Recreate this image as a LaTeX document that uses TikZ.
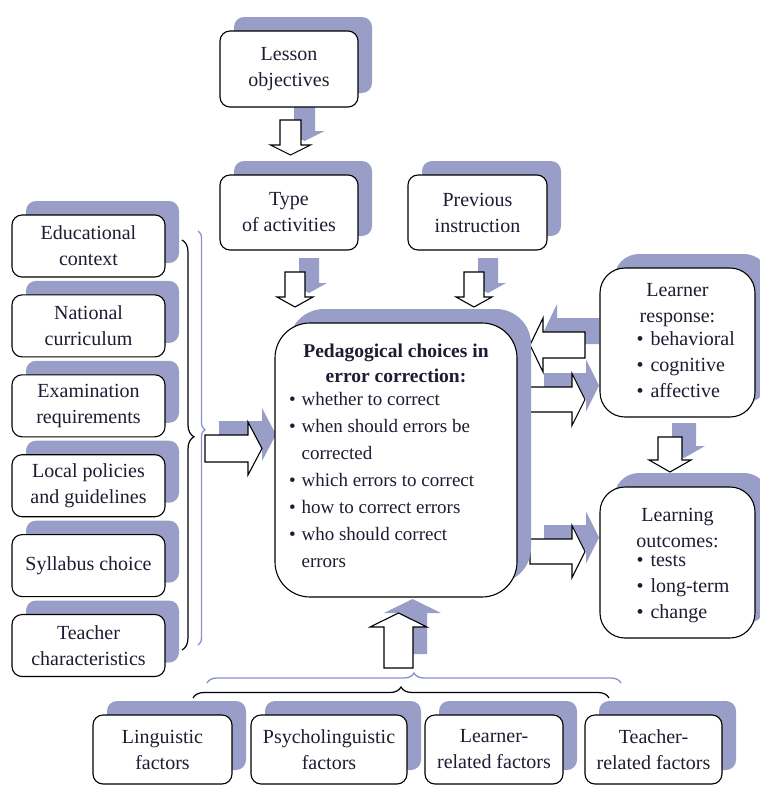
\documentclass[tikz,border=0pt]{standalone}
\usepackage{fontspec}
\setmainfont{Liberation Serif}
\usetikzlibrary{calc,decorations.pathreplacing,shadows}
\definecolor{shc}{RGB}{153,158,200}
\definecolor{brc}{RGB}{135,144,205}
\definecolor{txt}{RGB}{30,28,50}
\newcommand\tb{\textbullet}
\tikzset{
  box/.style={draw=black, line width=1.1pt, fill=white, rounded corners=10pt,
    align=center, inner sep=0pt, text=txt, font=\fontsize{20}{26}\selectfont,
    drop shadow={fill=shc, opacity=1, shadow xshift=14pt, shadow yshift=14pt}},
  lbox/.style={box, minimum width=153pt, minimum height=62pt},
  bbox/.style={box, minimum height=69pt},
  pics/barr/.style n args={4}{code={
    \path[pic actions] (0,-#2/2) -- (#1-#4,-#2/2) -- (#1-#4,-#3/2) -- (#1,0)
      -- (#1-#4,#3/2) -- (#1-#4,#2/2) -- (0,#2/2) -- cycle;}},
  ashadow/.style={fill=shc, draw=none, xshift=14pt, yshift=14pt},
  awhite/.style={fill=white, draw=black, line width=1.1pt, line join=miter},
  blk brace/.style={decorate, draw=black, line width=1.2pt},
  blue brace/.style={decorate, draw=brc, line width=1.3pt}
}
\newcommand\blockarr[3]{%
  \pic[ashadow,rotate=#1] at #2 {barr=#3};
  \pic[awhite,rotate=#1] at #2 {barr=#3};}
\begin{document}
\begin{tikzpicture}[x=1pt,y=-1pt]
\useasboundingbox (0,0) rectangle (760,787);

% brace tips (ends of the braces that collect the factors)
\coordinate (lt) at (194,445);
\coordinate (bt) at (401,687);

% block arrows (drawn first; boxes cover their shadows)
\coordinate (a1) at (290.5,120);
\coordinate (a2) at (295,272);
\coordinate (a3) at (474,272);
\coordinate (a5) at (585,345);
\coordinate (a6) at (530,399.5);
\coordinate (a7) at (530,551.5);
\coordinate (a8) at (670,437);
\blockarr{-90}{(a1)}{{35}{21}{40}{10}}
\blockarr{-90}{(a2)}{{35}{20}{36}{10}}
\blockarr{-90}{(a3)}{{35}{20}{36}{10}}
\blockarr{0}{($(lt)+(11,3.5)$)}{{57}{27}{53}{14}}
\blockarr{180}{(a5)}{{55}{26}{54}{13}}
\blockarr{0}{(a6)}{{55}{25}{52}{13}}
\blockarr{0}{(a7)}{{55}{25}{52}{13}}
\blockarr{-90}{(a8)}{{35}{24}{42}{12}}
\blockarr{90}{($(bt)+(-2.5,-19)$)}{{55}{29}{57}{14}}

% top boxes
\node[box, minimum width=138pt, minimum height=76pt] (lo) at (289,69) {Lesson\\objectives};
\node[box, minimum width=138pt, minimum height=75pt] (ta) at (289,212.5) {Type\\of activities};
\node[box, minimum width=139pt, minimum height=75pt] (pi) at (477.5,212.5) {Previous\\instruction};

% left boxes
\node[lbox] (e1) at (88.5,246) {Educational\\context};
\node[lbox] (e2) at (88.5,325.9) {National\\curriculum};
\node[lbox] (e3) at (88.5,405.8) {Examination\\requirements};
\node[lbox] (e4) at (88.5,485.7) {Local policies\\and guidelines};
\node[lbox] (e5) at (88.5,565.6) {Syllabus choice};
\node[lbox] (e6) at (88.5,645.5) {Teacher\\characteristics};

% bottom boxes
\node[bbox, minimum width=139pt] (f1) at (162.5,749.5) {Linguistic\\factors};
\node[bbox, minimum width=156pt] (f2) at (329,749.5) {Psycholinguistic\\factors};
\node[bbox, minimum width=138pt] (f3) at (494,749.5) {Learner-\\related factors};
\node[bbox, minimum width=137pt] (f4) at (653.5,749.5) {Teacher-\\related factors};

% centre box
\node[box, rounded corners=35pt, minimum width=242pt, minimum height=274pt] (pc) at (396,460) {%
\begin{minipage}{214pt}\centering\fontsize{19.5}{25}\selectfont\bfseries
Pedagogical choices in\\error correction:\par\vspace{3pt}
\raggedright\fontsize{19}{27}\selectfont\mdseries
\begin{tabular}{@{}l@{\hspace{6pt}}l@{}}
\tb & whether to correct\\
\tb & when should errors be\\
    & corrected\\
\tb & which errors to correct\\
\tb & how to correct errors\\
\tb & who should correct\\
    & errors
\end{tabular}\end{minipage}};

% right boxes
\node[box, rounded corners=25pt, minimum width=155pt, minimum height=149pt] (lr) at (677.5,342.5) {%
\begin{minipage}{130pt}\vspace*{4pt}\centering Learner\\response:\par\raggedright\hspace*{24pt}%
\begin{tabular}{@{}l@{\hspace{7pt}}l@{}}\tb & behavioral\\ \tb & cognitive\\ \tb & affective\end{tabular}\end{minipage}};
\node[box, rounded corners=25pt, minimum width=155pt, minimum height=151pt] (lc) at (677.5,562.5) {%
\begin{minipage}{130pt}\vspace*{10pt}\centering Learning\\outcomes:\par\raggedright\hspace*{24pt}%
\begin{tabular}{@{}l@{\hspace{7pt}}l@{}}\tb & tests\\ \tb & long-term\\ \tb & change\end{tabular}\end{minipage}};

% braces
\draw[blue brace, decoration={brace, amplitude=7pt, aspect=0.48}] (198,231) -- (198,645);
\draw[blk brace, decoration={brace, amplitude=12pt, aspect=0.48}] (182,240) -- (182,650);
\draw[blue brace, decoration={brace, amplitude=10pt}] (207,683) -- (621,683);
\draw[blk brace, decoration={brace, amplitude=11pt}] (193,698) -- (609,698);
\end{tikzpicture}
\end{document}
